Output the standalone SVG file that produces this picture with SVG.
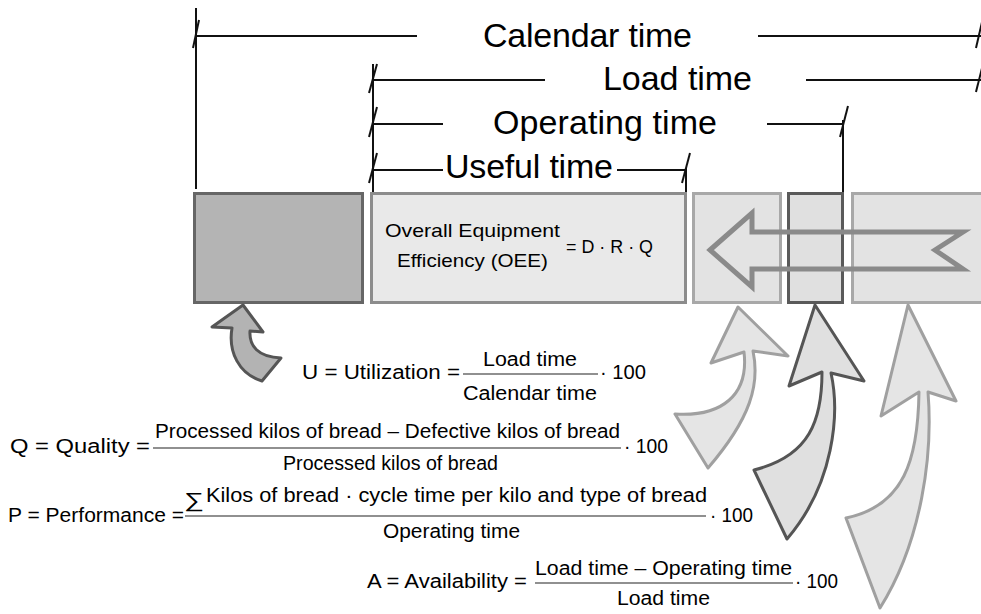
<svg xmlns="http://www.w3.org/2000/svg" width="981" height="614" viewBox="0 0 981 614">
<style>
.dim{stroke:#111;stroke-width:2;fill:none}
.h{font-family:"Liberation Sans",Arial,sans-serif;font-size:34px;fill:#000}
.b{font-family:"Liberation Sans",Arial,sans-serif;font-size:19px;fill:#000}
.f{font-family:"Liberation Sans",Arial,sans-serif;font-size:20px;fill:#000}
.fl{stroke:#222;stroke-width:1.2}
.box{stroke-width:3}
.arr{stroke-width:3;stroke-linejoin:round}
</style>
<rect width="981" height="614" fill="#fff"/>

<g id="connectors">
  <!-- Calendar time -->
  <line class="dim" x1="196" y1="8" x2="196" y2="189"/>
  <line class="dim" x1="196" y1="36" x2="417" y2="36"/>
  <line class="dim" x1="193" y1="48" x2="199" y2="20"/>
  <line class="dim" x1="758" y1="36" x2="981" y2="36"/>
  <line class="dim" x1="976" y1="48" x2="982" y2="22"/>
  <!-- Load time -->
  <line class="dim" x1="373" y1="64" x2="373" y2="193"/>
  <line class="dim" x1="373" y1="80" x2="545" y2="80"/>
  <line class="dim" x1="369" y1="93" x2="377" y2="64"/>
  <line class="dim" x1="806" y1="80" x2="981" y2="80"/>
  <line class="dim" x1="976" y1="92" x2="982" y2="68"/>
  <!-- Operating time -->
  <line class="dim" x1="373" y1="124" x2="443" y2="124"/>
  <line class="dim" x1="369" y1="137" x2="377" y2="107"/>
  <line class="dim" x1="767" y1="124" x2="843" y2="124"/>
  <line class="dim" x1="840" y1="137" x2="848" y2="106"/>
  <line class="dim" x1="843" y1="120" x2="843" y2="193"/>
  <!-- Useful time -->
  <line class="dim" x1="373" y1="170" x2="443" y2="170"/>
  <line class="dim" x1="369" y1="183" x2="377" y2="153"/>
  <line class="dim" x1="617" y1="170" x2="686" y2="170"/>
  <line class="dim" x1="682" y1="183" x2="690" y2="153"/>
  <line class="dim" x1="686" y1="168" x2="686" y2="193"/>
</g>

<g id="labels">
  <text class="h" x="483" y="47" textLength="209">Calendar time</text>
  <text class="h" x="603" y="90" textLength="149">Load time</text>
  <text class="h" x="493" y="134" textLength="224">Operating time</text>
  <text class="h" x="445" y="178" textLength="168">Useful time</text>
</g>

<g id="box-unused">
  <rect class="box" x="194.5" y="193.5" width="168" height="109" fill="#b4b4b4" stroke="#666"/>
</g>
<g id="box-oee">
  <rect class="box" x="371.5" y="193.5" width="314" height="109" fill="#e9e9e9" stroke="#8c8c8c"/>
  <text class="b" x="385" y="237" textLength="175" lengthAdjust="spacingAndGlyphs">Overall Equipment</text>
  <text class="b" x="397" y="267" textLength="151" lengthAdjust="spacingAndGlyphs">Efficiency (OEE)</text>
  <text class="b" x="566" y="253" textLength="87" lengthAdjust="spacingAndGlyphs">= D · R · Q</text>
</g>
<g id="box-quality">
  <rect class="box" x="693.5" y="193.5" width="87" height="109" fill="#e3e3e3" stroke="#a8a8a8"/>
</g>
<g id="box-performance">
  <rect class="box" x="788.5" y="193.5" width="54" height="109" fill="#e0e0e0" stroke="#5a5a5a"/>
</g>
<g id="box-availability">
  <rect class="box" x="852.5" y="193.5" width="135" height="109" fill="#e3e3e3" stroke="#a8a8a8"/>
</g>

<g id="flow-arrow">
  <path d="M710,250 L752,213 L752,232 L963,232 L935,250 L963,269 L752,269 L752,287 Z" fill="none" stroke="#8a8a8a" stroke-width="5" stroke-linejoin="miter"/>
</g>

<g id="curved-arrows">
  <path class="arr" d="M243,305 L263,332 L250,331 C249,346 258,357 281,358 L262,381 C239,374 228,352 232,328 L212,327 Z" fill="#b3b3b3" stroke="#555"/>
  <path class="arr" d="M738,307 L788,356 L753,351 C760,384 751,418 708,468 L675,414 C722,417 749,395 744,352 L711,363 Z" fill="#e5e5e5" stroke="#a0a0a0"/>
  <path class="arr" d="M815,305 L864,381 L831,373 C840,414 834,484 787,539 L754,470 C810,456 822,420 822,372 L789,386 Z" fill="#e0e0e0" stroke="#555"/>
  <path class="arr" d="M908,305 L956,401 L928,392 C933,454 922,541 880,608 L846,518 C904,506 918,460 919,392 L881,416 Z" fill="#e5e5e5" stroke="#a0a0a0"/>
</g>

<g id="formula-U">
  <text class="f" x="302" y="379" textLength="158" lengthAdjust="spacingAndGlyphs">U = Utilization =</text>
  <text class="f" x="483" y="366" textLength="94" lengthAdjust="spacingAndGlyphs">Load time</text>
  <line class="fl" x1="463" y1="374" x2="598" y2="374"/>
  <text class="f" x="463" y="400" textLength="134" lengthAdjust="spacingAndGlyphs">Calendar time</text>
  <text class="f" x="600" y="379" textLength="46" lengthAdjust="spacingAndGlyphs">· 100</text>
</g>

<g id="formula-Q">
  <text class="f" x="10" y="453" textLength="140" lengthAdjust="spacingAndGlyphs">Q = Quality =</text>
  <text class="f" x="155" y="438" textLength="465" lengthAdjust="spacingAndGlyphs">Processed kilos of bread – Defective kilos of bread</text>
  <line class="fl" x1="153" y1="448" x2="621" y2="448"/>
  <text class="f" x="283" y="470" textLength="215" lengthAdjust="spacingAndGlyphs">Processed kilos of bread</text>
  <text class="f" x="624" y="453" textLength="44" lengthAdjust="spacingAndGlyphs">· 100</text>
</g>

<g id="formula-P">
  <text class="f" x="8" y="522" textLength="176" lengthAdjust="spacingAndGlyphs">P = Performance =</text>
  <text class="f" x="184" y="507" font-size="32" textLength="20" lengthAdjust="spacingAndGlyphs">∑</text>
  <text class="f" x="206" y="502" textLength="501" lengthAdjust="spacingAndGlyphs">Kilos of bread · cycle time per kilo and type of bread</text>
  <line class="fl" x1="185" y1="516" x2="706" y2="516"/>
  <text class="f" x="383" y="538" textLength="137" lengthAdjust="spacingAndGlyphs">Operating time</text>
  <text class="f" x="710" y="522" textLength="43" lengthAdjust="spacingAndGlyphs">· 100</text>
</g>

<g id="formula-A">
  <text class="f" x="367" y="588" textLength="160" lengthAdjust="spacingAndGlyphs">A = Availability =</text>
  <text class="f" x="535" y="575" textLength="257" lengthAdjust="spacingAndGlyphs">Load time – Operating time</text>
  <line class="fl" x1="535" y1="583" x2="793" y2="583"/>
  <text class="f" x="617" y="605" textLength="93" lengthAdjust="spacingAndGlyphs">Load time</text>
  <text class="f" x="795" y="588" textLength="43" lengthAdjust="spacingAndGlyphs">· 100</text>
</g>
</svg>
